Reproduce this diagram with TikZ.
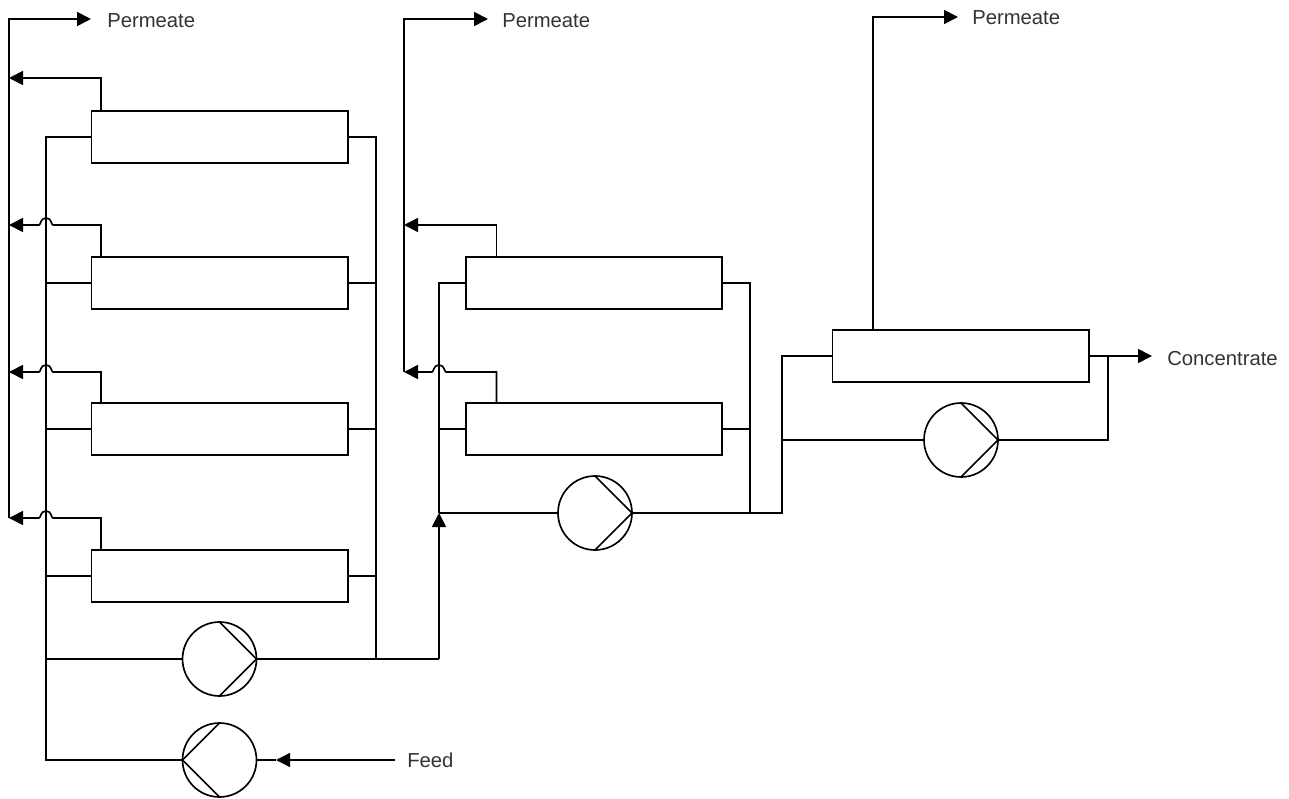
\documentclass[tikz,border=0pt]{standalone}
\usepackage{fontspec}
\setmainfont{Liberation Sans}
\usetikzlibrary{arrows.meta,calc}
\tikzset{
  module/.style={draw,line width=1.25pt,minimum width=192.4pt,minimum height=39pt,inner sep=0pt,outer sep=0pt,fill=white},
  pumpnode/.style={draw,circle,line width=1.25pt,minimum size=55.5pt,inner sep=0pt,outer sep=0pt},
  pipe/.style={line width=1.25pt,line join=miter},
  flow/.style={pipe,-{Triangle[length=10.5pt,width=10.5pt]}},
  lbl/.style={font=\fontsize{15.2pt}{17pt}\selectfont,text=black!80,anchor=west,inner sep=0pt},
}
\begin{document}
\begin{tikzpicture}[x=0.75pt,y=-0.75pt]
\useasboundingbox (0,0) rectangle (1289,799);
% modules
\node[module] (a1) at (219.75,137) {};
\node[module] (a2) at (219.75,283) {};
\node[module] (a3) at (219.75,429) {};
\node[module] (a4) at (219.75,576) {};
\node[module] (b1) at (594,283) {};
\node[module] (b2) at (594,429) {};
\node[module] (c1) at (960.75,356) {};
% pumps
\node[pumpnode] (p1) at (219.5,659) {};
\node[pumpnode] (p0) at (219.5,760) {};
\node[pumpnode] (p2) at (595,513) {};
\node[pumpnode] (p3) at (961,440) {};
\draw[pipe] (p1.north) -- (p1.east) -- (p1.south);
\draw[pipe] (p2.north) -- (p2.east) -- (p2.south);
\draw[pipe] (p3.north) -- (p3.east) -- (p3.south);
\draw[pipe] (p0.north) -- (p0.west) -- (p0.south);
% labels
\node[lbl] (t1) at (107,21) {Permeate};
\node[lbl] (t2) at (502,21) {Permeate};
\node[lbl] (t3) at (972,18) {Permeate};
\node[lbl] (t4) at (1167,359) {Concentrate};
\node[lbl] (t5) at (407,760.5) {Feed};
% free junction points
\coordinate (r1) at (9,518);
\coordinate (r1top) at (9,19);
\coordinate (r2) at (404,372);
\coordinate (r2top) at (404,19);
\coordinate (f1) at (46,137);
\coordinate (f1b) at (46,760);
\coordinate (o1) at (376,137);
\coordinate (o1b) at (376,659);
\coordinate (i2) at (439,283);
\coordinate (i2m) at (439,513);
\coordinate (i2b) at (439,659);
\coordinate (o2) at (750,283);
\coordinate (o2b) at (750,513);
\coordinate (j3) at (782,513);
\coordinate (j3t) at (782,356);
\coordinate (j3m) at (782,440);
\coordinate (o3) at (1108,356);
\coordinate (o3b) at (1108,440);
\coordinate (feedend) at (395,760);
\coordinate (tc) at (873,330);
\coordinate (ta1) at (101,111);
\coordinate (ta2) at (101,257);
\coordinate (ta3) at (101,403);
\coordinate (ta4) at (101,550);
\coordinate (tb1) at (496.5,257);
\coordinate (tb2) at (496.5,403);
% permeate rails
\draw[flow] (r1) -- (r1top) -- (91,19);
\draw[flow] (r2) -- (r2top) -- (488,19);
\draw[flow] (tc) -- (873,17) -- (958,17);
% permeate taps
\draw[flow] (ta1) -- (101,78) -- (9,78);
\foreach \n/\y in {ta2/225,ta3/372,ta4/518}{
  \draw[flow] (\n) -- (101,\y) -- (53,\y)
     .. controls (51,\y) and (52,\y-7) .. (46,\y-7)
     .. controls (40,\y-7) and (41,\y) .. (39,\y) -- (9,\y);
}
\draw[flow] (tb1) -- (496.5,225) -- (404,225);
\draw[flow] (tb2) -- (496.5,372) -- (446,372)
     .. controls (444,372) and (445,365) .. (439,365)
     .. controls (433,365) and (434,372) .. (432,372) -- (404,372);
% feed rail stage 1
\draw[pipe] (a1.west) -- (f1) -- (f1b) -- (p0.west);
\draw[pipe] (a2.west) -- (46,283);
\draw[pipe] (a3.west) -- (46,429);
\draw[pipe] (a4.west) -- (46,576);
\draw[pipe] (46,659) -- (p1.west);
\draw[flow] (feedend) -- (276,760);
\draw[pipe] (276,760) -- (p0.east);
% concentrate stage 1
\draw[pipe] (a1.east) -- (o1) -- (o1b);
\draw[pipe] (a2.east) -- (376,283);
\draw[pipe] (a3.east) -- (376,429);
\draw[pipe] (a4.east) -- (376,576);
\draw[pipe] (p1.east) -- (i2b);
\draw[flow] (i2b) -- (i2m);
% stage 2
\draw[pipe] (i2m) -- (i2) -- (b1.west);
\draw[pipe] (b2.west) -- (439,429);
\draw[pipe] (i2m) -- (p2.west);
\draw[pipe] (b1.east) -- (o2) -- (o2b);
\draw[pipe] (b2.east) -- (750,429);
\draw[pipe] (p2.east) -- (j3) -- (j3t) -- (c1.west);
% stage 3
\draw[pipe] (j3m) -- (p3.west);
\draw[pipe] (p3.east) -- (o3b) -- (o3);
\draw[flow] (c1.east) -- (1152,356);
\end{tikzpicture}
\end{document}
